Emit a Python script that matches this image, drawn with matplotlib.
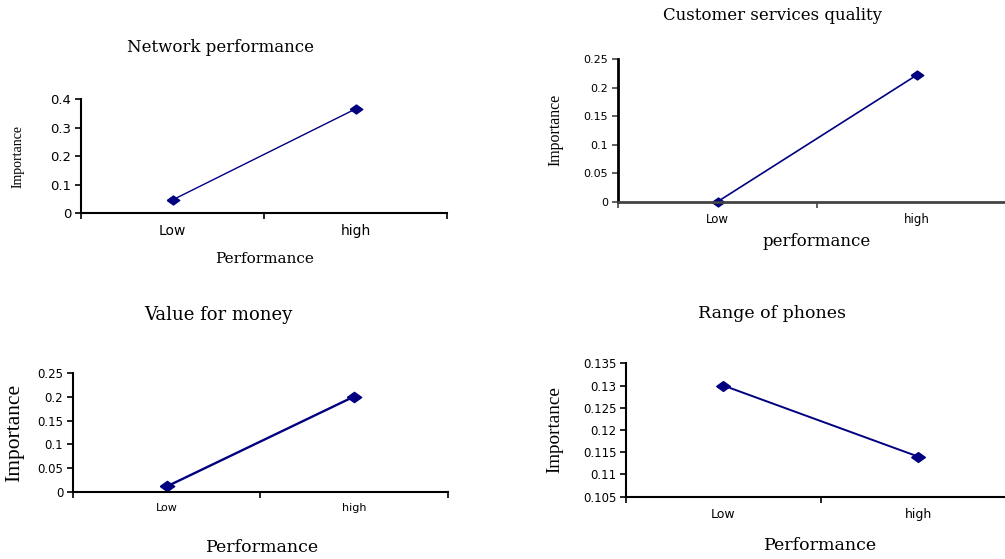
import matplotlib
matplotlib.use("Agg")
import matplotlib.pyplot as plt
import numpy as np

categories = ["Low", "high"]

titles = ["Network performance", "Customer services quality", "Value for money", "Range of phones"]
xlabels = ["Performance", "performance", "Performance", "Performance"]
ylabel = "Importance"

network_perf = [0.047, 0.366]
customer_service = [0.0, 0.222]
value_for_money = [0.011, 0.201]
range_of_phones = [0.130, 0.114]

yticks_net = [0, 0.1, 0.2, 0.3, 0.4]
yticks_cs = [0, 0.05, 0.1, 0.15, 0.2, 0.25]
yticks_vfm = [0, 0.05, 0.1, 0.15, 0.2, 0.25]
yticks_rop = [0.105, 0.11, 0.115, 0.12, 0.125, 0.13, 0.135]

series = [network_perf, customer_service, value_for_money, range_of_phones]
yticks_all = [yticks_net, yticks_cs, yticks_vfm, yticks_rop]

fig = plt.figure(figsize=(10.05, 5.59), dpi=100)

# positions in figure fraction [left, bottom, width, height]
positions = [
    [0.0806, 0.6184, 0.3642, 0.2040],
    [0.6150, 0.6392, 0.3960, 0.2548],
    [0.0726, 0.1204, 0.3731, 0.2118],
    [0.6229, 0.1114, 0.3880, 0.2386],
]

tick_fs = [9.5, 8, 8.5, 8.5]
xtick_fs = [10, 8.5, 8, 9]
title_fs = [12, 12, 13, 12.5]
xlabel_fs = [11, 12, 12.5, 12.5]
ylabel_fs = [10, 11.4, 15.5, 13.8]
title_y = [48, 16, 315, 313]
xlabel_y = [259, 241, 547, 545]
ylabel_x = [18, 555, 15, 555]
spine_col = ["black", "#444444", "black", "black"]
lw = [1.0, 1.2, 1.7, 1.4]
msz = [1.0, 1.0, 1.15, 1.1]

serif = ["DejaVu Serif"]
serif_narrow = ["Liberation Serif", "DejaVu Serif"]
sans = ["DejaVu Sans"]

diamond = np.array([[-1.4, 0], [0, 1], [1.4, 0], [0, -1], [-1.4, 0]])

for i, (pos, vals, yt) in enumerate(zip(positions, series, yticks_all)):
    ax = fig.add_axes(pos)
    x = np.array([0.5, 1.5])
    ax.plot(x, vals, color="#000080", lw=lw[i], marker=diamond, markersize=9 * msz[i],
            markerfacecolor="#000080", markeredgecolor="#000080", clip_on=False)
    ax.set_xlim(0, 2)
    ax.set_ylim(yt[0], yt[-1])
    ax.set_yticks(yt)
    ax.set_yticklabels([("%g" % v) for v in yt], fontsize=tick_fs[i], family=sans)
    ax.set_xticks([0, 1, 2])
    ax.set_xticklabels([])
    ax.set_xticks(x, minor=True)
    ax.set_xticklabels(categories, minor=True, fontsize=xtick_fs[i], family=sans)
    ax.tick_params(axis="x", which="minor", length=0, pad=8)
    ax.tick_params(axis="x", which="major", length=4, width=1.2, direction="out", color=spine_col[i])
    ax.tick_params(axis="y", length=4, width=1.2, direction="out", pad=3, color=spine_col[i])
    for s in ["top", "right"]:
        ax.spines[s].set_visible(False)
    for s in ["left", "bottom"]:
        ax.spines[s].set_color(spine_col[i])
        ax.spines[s].set_linewidth(1.5 if i != 1 else 2.0)
    ax.spines["left"].set_color("black")
    ax.patch.set_alpha(0)

    title_cx = [220, 772, 218, 772][i] / 1005
    fig.text(title_cx, 1 - title_y[i] / 559, titles[i], ha="center", va="center",
             fontsize=title_fs[i], family=serif)
    xl_cx = [265, 817, 263, 821][i] / 1005
    fig.text(xl_cx, 1 - xlabel_y[i] / 559, xlabels[i], ha="center", va="center",
             fontsize=xlabel_fs[i], family=serif)
    yl_cy = [157, 130, 433, 430][i]
    fig.text(ylabel_x[i] / 1005, 1 - yl_cy / 559, ylabel, ha="center", va="center",
             rotation=90, fontsize=ylabel_fs[i], family=serif_narrow)

fig.savefig("out.png", dpi=100)
